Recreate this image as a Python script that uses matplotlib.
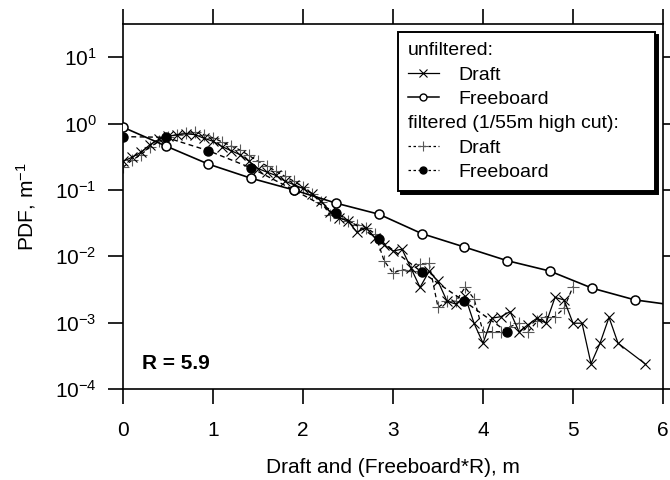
import numpy as np
import matplotlib
matplotlib.use("Agg")
import matplotlib.pyplot as plt
from matplotlib.lines import Line2D
from matplotlib.ticker import LogLocator, NullLocator, LogFormatterSciNotation

plt.rcParams['font.family'] = ['Liberation Sans', 'DejaVu Sans']
plt.rcParams['mathtext.default'] = 'regular'
plt.rcParams['axes.unicode_minus'] = False

# draft bins (m)
draft_x = [0.0, 0.1, 0.2, 0.3, 0.4, 0.5, 0.6, 0.7, 0.8, 0.9,
           1.0, 1.1, 1.2, 1.3, 1.4, 1.5, 1.6, 1.7, 1.8, 1.9,
           2.0, 2.1, 2.2, 2.3, 2.4, 2.5, 2.6, 2.7, 2.8, 2.9,
           3.0, 3.1, 3.2, 3.3, 3.4, 3.5, 3.6, 3.7, 3.8, 3.9,
           4.0, 4.1, 4.2, 4.3, 4.4, 4.5, 4.6, 4.7, 4.8, 4.9,
           5.0, 5.1, 5.2, 5.3, 5.4, 5.5, 5.8]
draft_raw = [0.27, 0.31, 0.37, 0.48, 0.58, 0.64, 0.68, 0.70, 0.68, 0.60,
             0.54, 0.45, 0.39, 0.34, 0.27, 0.21, 0.185, 0.165, 0.135, 0.12,
             0.105, 0.088, 0.068, 0.047, 0.038, 0.034, 0.023, 0.027, 0.019, 0.015,
             0.012, 0.0128, 0.0066, 0.0034, 0.0059, 0.0042, 0.0021, 0.0019, 0.0025, 0.00098,
             0.00049, 0.00117, 0.00123, 0.00147, 0.00073, 0.00093, 0.00117, 0.00098, 0.0024, 0.0022,
             0.00098, 0.00098, 0.00024, 0.00049, 0.0012, 0.00049, 0.00024]

draft_filt_x = draft_x[:51]
draft_filt = [0.22, 0.28, 0.34, 0.44, 0.54, 0.62, 0.68, 0.73, 0.74, 0.68,
              0.61, 0.53, 0.46, 0.40, 0.33, 0.27, 0.23, 0.19, 0.16, 0.135,
              0.11, 0.088, 0.066, 0.042, 0.038, 0.034, 0.030, 0.027, 0.022, 0.0086,
              0.0056, 0.0063, 0.0060, 0.0076, 0.0079, 0.0017, 0.0021, 0.0021, 0.0034, 0.0023,
              0.00073, 0.00073, 0.00073, 0.00087, 0.00098, 0.00073, 0.00104, 0.00123, 0.00123, 0.00165,
              0.0035]

# freeboard bins scaled by R
fb_x = [0.0, 0.474, 0.948, 1.422, 1.896, 2.37, 2.844, 3.318, 3.792, 4.266,
        4.74, 5.214, 5.688, 6.162]
fb_raw = [0.88, 0.46, 0.245, 0.15, 0.10, 0.063, 0.043, 0.022, 0.0138, 0.0086,
          0.006, 0.0033, 0.0022, 0.0018]
fb_filt = [0.635, 0.62, 0.39, 0.215, 0.10, 0.045, 0.018, 0.0058, 0.0021, 0.00073]

fig = plt.figure(figsize=(6.7, 4.8), dpi=100)
ax = fig.add_axes([0.1836, 0.1896, 0.806, 0.7604])

dash = (0, (3.5, 2.5))
ax.plot(draft_filt_x, draft_filt, linestyle=dash, color='k', lw=0.9,
        marker='+', ms=8, mew=0.8, mec='0.35', zorder=2)
ax.plot(draft_x, draft_raw, '-', color='k', lw=0.9,
        marker='x', ms=7, mew=0.8, zorder=3)
ax.plot(fb_x[:len(fb_filt)], fb_filt, linestyle=dash, color='k', lw=1.0,
        marker='o', ms=6.5, mfc='k', mec='k', zorder=4)
ax.plot(fb_x, fb_raw, '-', color='k', lw=1.2,
        marker='o', ms=6.5, mfc='white', mec='k', mew=1.1, zorder=5)

ax.set_yscale('log')
ax.set_xlim(0, 6)
ax.set_ylim(1e-4, 10 ** 1.5)
ax.set_xticks([0, 1, 2, 3, 4, 5, 6])
ax.yaxis.set_major_locator(LogLocator(base=10, numticks=10))
ax.yaxis.set_major_formatter(LogFormatterSciNotation())
ax.yaxis.set_minor_locator(NullLocator())

for s in ax.spines.values():
    s.set_linewidth(1.2)
ax.tick_params(axis='both', which='major', direction='out', length=11,
               width=1.2, labelsize=15)
ax.tick_params(axis='x', pad=12, top=True)
ax.tick_params(axis='y', pad=8, right=True)

ax.set_xlabel('Draft and (Freeboard*R), m', fontsize=15, labelpad=13)
ax.set_ylabel('PDF, m$^{-1}$', fontsize=15, labelpad=12)

ax.text(0.035, 0.071, 'R = 5.9', transform=ax.transAxes, fontsize=15,
        fontweight='bold', ha='left', va='center')

blank = Line2D([], [], linestyle='none')
handles = [
    blank,
    Line2D([], [], color='k', lw=0.9, marker='x', ms=6, mew=0.8),
    Line2D([], [], color='k', lw=1.1, marker='o', ms=5, mfc='white', mec='k'),
    blank,
    Line2D([], [], color='k', lw=0.9, linestyle=(0, (2, 2)), marker='+', ms=7,
           mew=0.8, mec='0.35'),
    Line2D([], [], color='k', lw=0.9, linestyle=(0, (2, 2)), marker='o', ms=5,
           mfc='k', mec='k'),
]
labels = ['unfiltered:', 'Draft', 'Freeboard',
          'filtered (1/55m high cut):     ', 'Draft', 'Freeboard']
leg = ax.legend(handles, labels, loc='upper right', fontsize=14,
                numpoints=1, handlelength=1.6, handletextpad=1.0,
                labelspacing=0.35, borderpad=0.5, borderaxespad=0.4,
                fancybox=False, framealpha=1, edgecolor='k',
                shadow={'color': 'k', 'alpha': 1})
leg.get_frame().set_linewidth(1.4)
# header rows: drop the empty handle so the text starts at the left edge
rows = leg._legend_handle_box.get_children()[0].get_children()
for i in (0, 3):
    rows[i].get_children()[0].set_width(-1.0 * 14)

fig.savefig('out.png', dpi=100)
